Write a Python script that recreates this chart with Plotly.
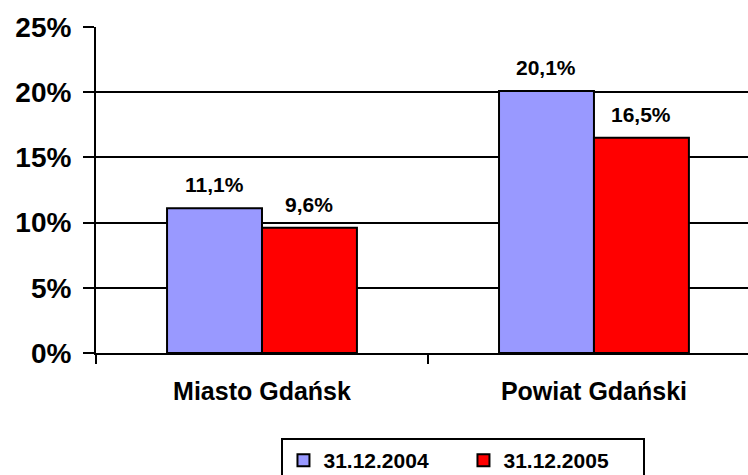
import plotly.graph_objects as go

categories = ["Miasto Gdańsk", "Powiat Gdański"]
series_names = ["31.12.2004", "31.12.2005"]
values_2004 = [11.1, 20.1]
values_2005 = [9.6, 16.5]
colors = ["#9999FF", "#FF0000"]
y_tick_vals = [0, 5, 10, 15, 20, 25]
y_tick_text = [f"{v}%" for v in y_tick_vals]

FONT = "Liberation Sans, Arial, sans-serif"
BARGAP = 0.428

def fmt(v):
    return f"{v:.1f}".replace(".", ",") + "%"

fig = go.Figure()
all_vals = [values_2004, values_2005]
for name, vals, col in zip(series_names, all_vals, colors):
    fig.add_trace(go.Bar(
        x=categories, y=vals, name=name,
        marker=dict(color=col, line=dict(color="black", width=2)),
        hoverinfo="skip",
    ))

# data labels above bars
bw = (1 - BARGAP) / len(all_vals)
for i, vals in enumerate(all_vals):
    off = (i - (len(all_vals) - 1) / 2) * bw
    for j, v in enumerate(vals):
        fig.add_annotation(
            x=j + off, y=v, text="<b>" + fmt(v) + "</b>",
            showarrow=False, yanchor="bottom", yshift=10,
            font=dict(family=FONT, size=21, color="black"),
        )

fig.update_layout(
    width=748, height=475,
    margin=dict(l=96, r=0, t=27, b=122, autoexpand=False),
    paper_bgcolor="white", plot_bgcolor="white",
    barmode="group", bargap=BARGAP, bargroupgap=0,
    font=dict(family=FONT, color="black"),
    showlegend=True,
    legend=dict(
        orientation="h", x=0.5636, xanchor="center", y=-0.261, yanchor="top",
        bordercolor="black", borderwidth=2, bgcolor="white",
        font=dict(family=FONT, size=21, color="black", weight="bold"),
        entrywidth=135, entrywidthmode="pixels", itemwidth=30,
        traceorder="normal",
    ),
)
fig.update_xaxes(
    type="category", range=[-0.5, 1.464],
    showline=True, linecolor="black", linewidth=2,
    ticks="outside", tickson="boundaries", ticklen=9, tickwidth=2, tickcolor="black",
    tickfont=dict(family=FONT, size=25, color="black", weight="bold"),
    ticklabelstandoff=15,
    showgrid=False, zeroline=False,
)
fig.update_yaxes(
    range=[0, 25], tickmode="array", tickvals=y_tick_vals, ticktext=y_tick_text,
    showline=True, linecolor="black", linewidth=2,
    ticks="outside", ticklen=11, tickwidth=2, tickcolor="black",
    tickfont=dict(family=FONT, size=28, color="black", weight="bold"),
    ticklabelstandoff=6,
    showgrid=True, gridcolor="black", gridwidth=2, zeroline=False,
)

fig.write_html("out.html", config={"displayModeBar": False},
               post_script="document.body.style.margin='0';")
